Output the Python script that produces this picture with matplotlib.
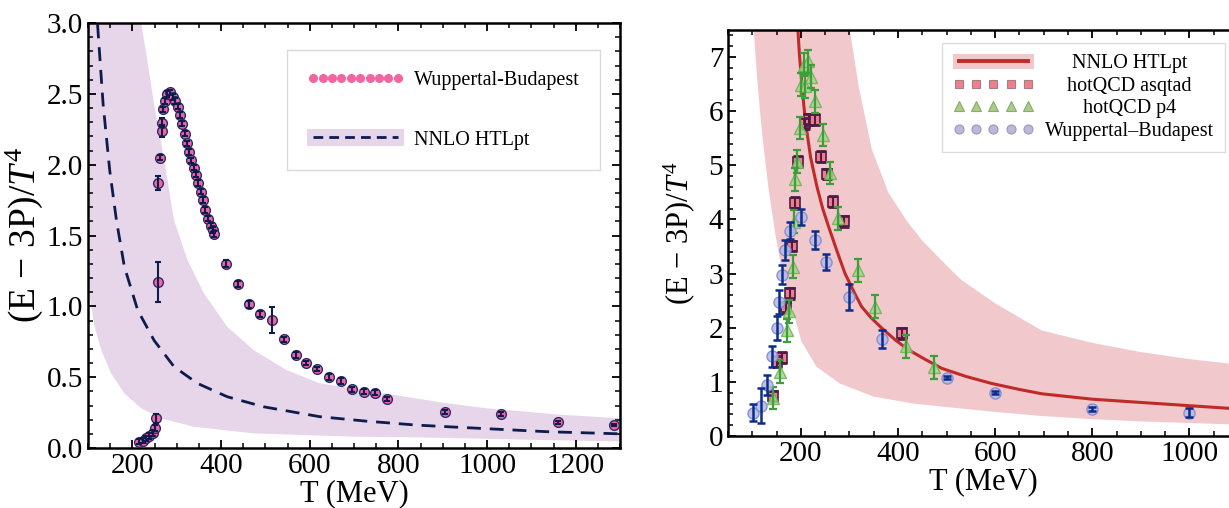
import numpy as np
import matplotlib
matplotlib.use("Agg")
import matplotlib.pyplot as plt
from matplotlib.lines import Line2D
from matplotlib.patches import Patch
from matplotlib.legend_handler import HandlerTuple
from matplotlib.ticker import MultipleLocator, FormatStrFormatter

plt.rcParams['font.family'] = ['Liberation Serif', 'DejaVu Serif']
plt.rcParams['mathtext.fontset'] = 'custom'
plt.rcParams['mathtext.rm'] = 'Liberation Serif'
plt.rcParams['mathtext.it'] = 'Liberation Serif:italic'

# ---------------- Left panel data ----------------
wb_T = [216, 223, 231, 238, 246, 252, 253, 257, 258, 263, 266, 267, 270, 273, 279,
        285, 291, 296, 302, 308, 313, 318, 323, 328, 333, 338, 343, 348, 354, 360,
        365, 371, 377, 383, 385, 412, 439, 464, 489, 516, 542, 569, 592, 617, 644,
        670, 696, 722, 748, 774, 905, 1032, 1161, 1287]
wb_v = [0.045, 0.052, 0.068, 0.087, 0.104, 0.14, 0.21, 1.174, 1.868, 2.05, 2.237,
        2.296, 2.39, 2.45, 2.50, 2.51, 2.48, 2.45, 2.41, 2.35, 2.29, 2.22, 2.15, 2.09,
        2.03, 1.98, 1.93, 1.87, 1.81, 1.75, 1.68, 1.62, 1.57, 1.54, 1.51, 1.30, 1.157,
        1.014, 0.946, 0.903, 0.767, 0.656, 0.598, 0.557, 0.503, 0.473, 0.414, 0.398,
        0.391, 0.346, 0.256, 0.238, 0.181, 0.162]
wb_e = [0.02, 0.02, 0.02, 0.02, 0.02, 0.02, 0.03, 0.14, 0.05, 0.02, 0.04,
        0.03, 0.02, 0.02, 0.02, 0.02, 0.02, 0.02, 0.02, 0.02, 0.02, 0.02, 0.02, 0.02,
        0.02, 0.02, 0.02, 0.02, 0.02, 0.02, 0.02, 0.02, 0.02, 0.02, 0.02, 0.025, 0.02,
        0.025, 0.02, 0.09, 0.02, 0.02, 0.015, 0.015, 0.02, 0.02, 0.02, 0.02,
        0.02, 0.015, 0.015, 0.015, 0.01, 0.01]

htlL_T = [118, 122, 134, 149, 164, 182, 212, 249, 294, 347, 414, 496, 623, 726,
          840, 912, 1136, 1300]
htlL_v = [3.15, 2.97, 2.43, 1.96, 1.61, 1.28, 0.974, 0.76, 0.574, 0.456, 0.362,
          0.291, 0.221, 0.19, 0.162, 0.15, 0.115, 0.10]

bandL_lo_T = [100, 115, 130, 152, 182, 220, 264, 339, 474, 698, 840, 1000, 1150, 1300]
bandL_lo_v = [1.14, 0.856, 0.69, 0.527, 0.386, 0.28, 0.21, 0.15, 0.103, 0.08,
              0.075, 0.065, 0.055, 0.046]
bandL_hi_T = [100, 212, 220, 231, 249, 272, 294, 324, 362, 414, 474, 548, 623,
              700, 800, 900, 1000, 1165, 1300]
bandL_hi_v = [3.5, 3.3, 3.0, 2.79, 2.43, 2.03, 1.61, 1.33, 1.09, 0.856, 0.69,
              0.55, 0.456, 0.42, 0.37, 0.32, 0.28, 0.235, 0.21]

# ---------------- Right panel data ----------------
rwb_T = [102, 117, 131, 141, 150, 154, 161, 168, 178, 201, 229, 252, 300, 367,
         500, 600, 800, 1000]
rwb_v = [0.43, 0.56, 0.94, 1.47, 1.99, 2.47, 2.98, 3.44, 3.79, 4.04, 3.62, 3.21,
         2.57, 1.79, 1.08, 0.80, 0.50, 0.43]
rwb_e = [0.16, 0.32, 0.18, 0.19, 0.22, 0.22, 0.17, 0.18, 0.16, 0.15, 0.16, 0.15,
         0.24, 0.16, 0.03, 0.03, 0.03, 0.08]

asq_T = [142, 151, 161, 169, 178, 181, 188, 194, 208, 216, 229, 242, 254, 267, 289, 409]
asq_v = [0.74, 1.37, 1.45, 2.38, 2.64, 3.51, 4.31, 5.07, 5.78, 5.85, 5.84, 5.16,
         4.84, 4.33, 3.97, 1.90]
asq_e = [0.1] * 16

p4_T = [142, 157, 172, 176, 183, 186, 188, 192, 199, 201, 206, 209, 214, 221, 229,
        245, 260, 276, 317, 353, 417, 475]
p4_v = [0.70, 1.19, 1.95, 2.30, 3.13, 3.96, 4.74, 5.07, 5.69, 6.49, 6.86, 6.46,
        6.92, 6.64, 6.18, 5.56, 4.86, 4.02, 3.06, 2.39, 1.66, 1.27]
p4_e = [0.21] * 22

htlR_T = [192, 197, 203, 209, 220, 233, 245, 257, 275, 291, 310, 325, 345, 367,
          395, 422, 455, 490, 540, 593, 650, 696, 800, 900, 1000, 1100]
htlR_v = [7.8, 7.05, 6.4, 5.84, 5.15, 4.61, 4.2, 3.87, 3.4, 3.0, 2.65, 2.39, 2.18,
          1.99, 1.77, 1.59, 1.42, 1.25, 1.1, 0.97, 0.86, 0.78, 0.68, 0.62, 0.56, 0.50]

bandR_lo_T = [100, 103, 110, 120, 133, 147, 160, 175, 201, 232, 280, 349, 431, 527,
              593, 696, 800, 900, 1000, 1100]
bandR_lo_v = [8.0, 7.5, 6.6, 5.6, 4.6, 3.75, 3.1, 2.6, 1.75, 1.28, 0.97, 0.73,
              0.60, 0.51, 0.45, 0.37, 0.31, 0.27, 0.24, 0.21]
bandR_hi_T = [297, 301, 319, 346, 380, 420, 449, 500, 531, 600, 696, 800, 900, 1000, 1100]
bandR_hi_v = [8.0, 7.5, 6.46, 5.3, 4.5, 3.95, 3.62, 3.15, 2.88, 2.45, 1.95, 1.72,
              1.55, 1.42, 1.32]

# ---------------- Figure ----------------
fig = plt.figure(figsize=(12.29, 5.08), dpi=100)
axL = fig.add_axes([88 / 1229, 1 - 448 / 508, 532 / 1229, 425 / 508])
axR = fig.add_axes([728 / 1229, 1 - 436 / 508, 510 / 1229, 406 / 508])

band_L_col = '#e7d6e9'
pink = '#f3659f'
navy = '#0d1b4d'

# Left band
axL.fill(np.concatenate([bandL_lo_T, bandL_hi_T[::-1]]),
         np.concatenate([bandL_lo_v, bandL_hi_v[::-1]]),
         color=band_L_col, lw=0, zorder=1)
axL.plot(htlL_T, htlL_v, color=navy, lw=2.0, dashes=(5, 3.2), zorder=2)
axL.plot(wb_T, wb_v, 'o', ms=7, mfc=pink, mec='#2c2a6a', mew=1.0, ls='none', zorder=3)
axL.errorbar(wb_T, wb_v, yerr=wb_e, fmt='none', ecolor=navy, elinewidth=1.5,
             capsize=2.5, capthick=1.5, zorder=4)

axL.set_xlim(100, 1300)
axL.set_ylim(0, 3.0)
axL.xaxis.set_major_locator(MultipleLocator(200))
axL.xaxis.set_minor_locator(MultipleLocator(50))
axL.yaxis.set_major_locator(MultipleLocator(0.5))
axL.yaxis.set_minor_locator(MultipleLocator(0.1))
axL.yaxis.set_major_formatter(FormatStrFormatter('%.1f'))
axL.set_xlabel('T (MeV)', fontsize=22, labelpad=0)
axL.set_ylabel('(E \u2212 3P)/$T^{4}$', fontsize=27)

hL1 = Line2D([], [], ls='none', marker='o', ms=5.5, mfc=pink, mec=pink)
hL2 = (Patch(facecolor=band_L_col, edgecolor='none'),
       Line2D([], [], color=navy, lw=2.0, dashes=(3.5, 2.2)))
legL = axL.legend([hL1, hL2], ['Wuppertal-Budapest', 'NNLO HTLpt'],
                  handler_map={tuple: HandlerTuple(ndivide=1, pad=0)},
                  loc='upper left', bbox_to_anchor=(0.374, 0.937), borderaxespad=0,
                  fontsize=14.5, numpoints=10, handlelength=4.8, handleheight=0.9,
                  handletextpad=0.5, labelspacing=1.95, borderpad=1.0,
                  frameon=True, fancybox=False, edgecolor='#d8d8d8', framealpha=1)
legL.get_frame().set_linewidth(1.0)

# Right panel
band_R_col = '#f1c9cc'
red = '#c02a28'
axR.fill(np.concatenate([bandR_lo_T, bandR_hi_T[::-1]]),
         np.concatenate([bandR_lo_v, bandR_hi_v[::-1]]),
         color=band_R_col, lw=0, zorder=1)
axR.plot(htlR_T, htlR_v, color=red, lw=2.2, zorder=2)

axR.plot(asq_T, asq_v, 's', ms=7, mfc='#f57d8a', mec='#4d1c46', mew=1.2, ls='none', zorder=3)
axR.errorbar(asq_T, asq_v, yerr=asq_e, fmt='none', ecolor='#4d1c46', elinewidth=1.5,
             capsize=3.5, capthick=2, zorder=3.5)
axR.plot(p4_T, p4_v, '^', ms=9, mfc='#a9d48c', mec='#6cb256', mew=1.0, alpha=0.85,
         ls='none', zorder=4)
axR.errorbar(p4_T, p4_v, yerr=p4_e, fmt='none', ecolor='#3d9f3a', elinewidth=1.6,
             capsize=3, capthick=1.6, zorder=4.5)
axR.plot(rwb_T, rwb_v, 'o', ms=8, mfc='#b4b9e6', mec='#7d86c8', mew=1.0, alpha=0.85,
         ls='none', zorder=5)
axR.errorbar(rwb_T, rwb_v, yerr=rwb_e, fmt='none', ecolor='#0a2d8c', elinewidth=1.8,
             capsize=3, capthick=1.8, zorder=5.5)

axR.set_xlim(50, 1100)
axR.set_ylim(0, 7.5)
axR.xaxis.set_major_locator(MultipleLocator(200))
axR.xaxis.set_minor_locator(MultipleLocator(50))
axR.yaxis.set_major_locator(MultipleLocator(1))
axR.yaxis.set_minor_locator(MultipleLocator(0.2))
axR.set_xlabel('T (MeV)', fontsize=22, labelpad=0)
axR.set_ylabel('(E \u2212 3P)/$T^{4}$', fontsize=22)

hR1 = (Patch(facecolor=band_R_col, edgecolor='none'), Line2D([], [], color=red, lw=2.8))
hR2 = Line2D([], [], ls='none', marker='s', ms=6, mfc='#f57d8a', mec='#a08088', mew=0.8)
hR3 = Line2D([], [], ls='none', marker='^', ms=6.5, mfc='#a9cc86', mec='#8aaa70', mew=0.8)
hR4 = Line2D([], [], ls='none', marker='o', ms=6.5, mfc='#bcb8da', mec='#9a98b8', mew=0.8)
legR = axR.legend([hR1, hR2, hR3, hR4],
                  ['NNLO HTLpt', 'hotQCD asqtad', 'hotQCD p4', 'Wuppertal\u2013Budapest'],
                  handler_map={tuple: HandlerTuple(ndivide=1, pad=0)},
                  loc='upper right', bbox_to_anchor=(0.9745, 0.968), borderaxespad=0,
                  fontsize=14.5, numpoints=5, handlelength=4.0, handleheight=0.75,
                  handletextpad=0.55, labelspacing=0.15, borderpad=0.55,
                  frameon=True, fancybox=False, edgecolor='#dcdcdc', framealpha=1)
legR.get_frame().set_linewidth(1.0)

for ax in (axL, axR):
    ax.tick_params(which='both', direction='in', top=True, right=True, labelsize=21)
    ax.tick_params(which='major', length=6, width=1.3)
    ax.tick_params(which='minor', length=3.5, width=1.1)
    for s in ax.spines.values():
        s.set_linewidth(1.8)

# ylabel x-coordinate marks the right edge of the rotated label
axL.yaxis.set_label_coords(-0.08, 0.5)
axR.yaxis.set_label_coords(-0.061, 0.5)

# center the right legend labels within their column
fig.canvas.draw()
renderer = fig.canvas.get_renderer()
texts = legR.get_texts()
widths = [t.get_window_extent(renderer).width for t in texts]
wmax = max(widths)
for t, w in zip(texts, widths):
    t.set_x((wmax - w) / 2)

fig.savefig('out.png', dpi=100)
